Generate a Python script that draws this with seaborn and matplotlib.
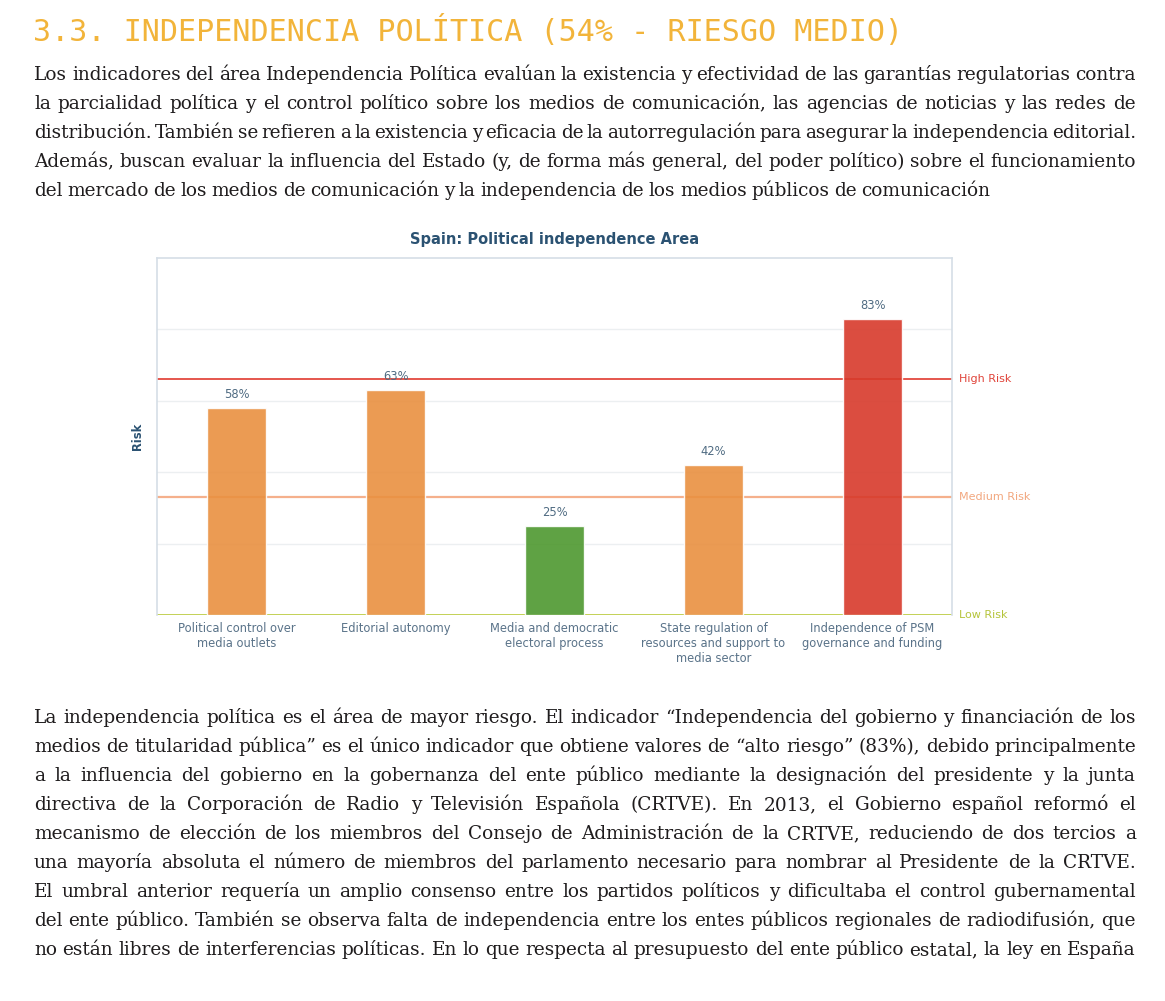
import numpy as np
import pandas as pd
import matplotlib
matplotlib.use("Agg")
import matplotlib.pyplot as plt
import matplotlib.transforms as mtrans
import seaborn as sns

# Dados do grafico
categorias = ["Political control over\nmedia outlets",
              "Editorial autonomy",
              "Media and democratic\nelectoral process",
              "State regulation of\nresources and support to\nmedia sector",
              "Independence of PSM\ngovernance and funding"]
valores = [58, 63, 25, 42, 83]

# Limites de risco
limitesRisco = [0, 33, 66]
nomesRisco = ["Low Risk", "Medium Risk", "High Risk"]

tituloGrafico = "Spain: Political independence Area"
tituloPagina = "3.3. INDEPENDENCIA POLÍTICA (54% - RIESGO MEDIO)"

paragrafo1 = [
    "Los indicadores del área Independencia Política evalúan la existencia y efectividad de las garantías regulatorias contra",
    "la parcialidad política y el control político sobre los medios de comunicación, las agencias de noticias y las redes de",
    "distribución. También se refieren a la existencia y eficacia de la autorregulación para asegurar la independencia editorial.",
    "Además, buscan evaluar la influencia del Estado (y, de forma más general, del poder político) sobre el funcionamiento",
    "del mercado de los medios de comunicación y la independencia de los medios públicos de comunicación",
]

paragrafo2 = [
    "La independencia política es el área de mayor riesgo. El indicador “Independencia del gobierno y financiación de los",
    "medios de titularidad pública” es el único indicador que obtiene valores de “alto riesgo” (83%), debido principalmente",
    "a la influencia del gobierno en la gobernanza del ente público mediante la designación del presidente y la junta",
    "directiva de la Corporación de Radio y Televisión Española (CRTVE). En 2013, el Gobierno español reformó el",
    "mecanismo de elección de los miembros del Consejo de Administración de la CRTVE, reduciendo de dos tercios a",
    "una mayoría absoluta el número de miembros del parlamento necesario para nombrar al Presidente de la CRTVE.",
    "El umbral anterior requería un amplio consenso entre los partidos políticos y dificultaba el control gubernamental",
    "del ente público. También se observa falta de independencia entre los entes públicos regionales de radiodifusión, que",
    "no están libres de interferencias políticas. En lo que respecta al presupuesto del ente público estatal, la ley en España",
]

# Estilo
W, H = 1165, 1001
FONTE_TEXTO = "DejaVu Serif"
TAM_TEXTO = 13.3
ENTRELINHA = 29
COR_TEXTO = "#1f1c1d"
coresRisco = ["#4e982f", "#e99040", "#d73a2b"]
coresLinhas = ["#b9c93a", "#f5b08c", "#e0392f"]
coresRotulos = ["#b5c43a", "#f2a77e", "#e0443a"]
COR_EIXO = "#5a7389"
COR_TITULO = "#2b5272"


def corDoValor(v):
    cor = coresRisco[0]
    for lim, c in zip(limitesRisco, coresRisco):
        if v >= lim:
            cor = c
    return cor


def mede(fig, renderer, palavras, tam):
    larguras = []
    for p in palavras:
        t = fig.text(0, 0, p, fontsize=tam, family=FONTE_TEXTO)
        larguras.append(t.get_window_extent(renderer).width)
        t.remove()
    return larguras


def escreveLinha(fig, renderer, linha, x0, x1, y, justifica=True):
    palavras = linha.split()
    tam = TAM_TEXTO
    larguras = mede(fig, renderer, palavras, tam)
    # se a linha nao cabe, reduz um pouco a fonte
    minimo = (len(palavras) - 1) * 3.5
    if sum(larguras) + minimo > x1 - x0:
        tam = tam * (x1 - x0 - minimo) / sum(larguras)
        larguras = mede(fig, renderer, palavras, tam)
    if justifica and len(palavras) > 1:
        espaco = (x1 - x0 - sum(larguras)) / (len(palavras) - 1)
    else:
        espaco = tam * 100 / 72 * 0.25
    x = x0
    for p, w in zip(palavras, larguras):
        fig.text(x / W, 1 - y / H, p, fontsize=tam, family=FONTE_TEXTO,
                 color=COR_TEXTO, ha="left", va="baseline")
        x += w + espaco


def escreveParagrafo(fig, renderer, linhas, yInicial, ultimaJustificada):
    for i, linha in enumerate(linhas):
        ultima = i == len(linhas) - 1
        escreveLinha(fig, renderer, linha, 34, 1136, yInicial + i * ENTRELINHA,
                     justifica=(not ultima) or ultimaJustificada)


def geraGrafico(fig):
    ax = fig.add_axes([157 / W, 1 - 615 / H, 795 / W, 357 / H])
    df = pd.DataFrame({"Indicador": categorias, "Risco": valores})
    paleta = [corDoValor(v) for v in valores]
    sns.barplot(data=df, x="Indicador", y="Risco", hue="Indicador", palette=paleta,
                legend=False, width=0.365, alpha=0.9, saturation=1, zorder=3, ax=ax)

    ax.set_ylim(0, 100)
    ax.set_yticks([20, 40, 60, 80])
    ax.set_yticklabels([])
    ax.grid(axis="y", color="#eceff1", linewidth=1, zorder=0)
    ax.tick_params(axis="both", length=0)
    ax.tick_params(axis="x", pad=5, labelsize=8.3, labelcolor=COR_EIXO)
    for s in ["left", "top", "right"]:
        ax.spines[s].set_color("#d5dee6")
        ax.spines[s].set_linewidth(1.2)
    ax.spines["bottom"].set_visible(False)

    trans = mtrans.blended_transform_factory(ax.transAxes, ax.transData)
    for lim, nome, cl, cr in zip(limitesRisco, nomesRisco, coresLinhas, coresRotulos):
        ax.axhline(lim, color=cl, linewidth=1.6 if lim == 33 else 1.2, zorder=2)
        ax.text(1 + 7 / 795, lim, nome, transform=trans, color=cr, fontsize=8,
                ha="left", va="center")

    for cont in ax.containers:
        ax.bar_label(cont, labels=[f"{v:.0f}%" for v in cont.datavalues],
                     padding=5, fontsize=8.3, color="#4f6b82")

    ax.set_xlabel("")
    ax.set_ylabel("Risk", fontsize=8.3, fontweight="bold", color=COR_TITULO, labelpad=6)
    ax.set_title(tituloGrafico, fontsize=10.5, fontweight="bold", color=COR_TITULO, pad=10)
    return ax


def main():
    sns.set_theme(style="white")
    plt.rcParams["font.family"] = ["DejaVu Sans"]
    fig = plt.figure(figsize=(W / 100, H / 100), dpi=100)
    renderer = fig.canvas.get_renderer()

    fig.text(33 / W, 1 - 41 / H, tituloPagina, family="DejaVu Sans Mono",
             fontsize=21.7, color="#f2b43a", ha="left", va="baseline")

    escreveParagrafo(fig, renderer, paragrafo1, 80, False)
    geraGrafico(fig)
    escreveParagrafo(fig, renderer, paragrafo2, 723, True)

    fig.savefig("out.png", dpi=100)


if __name__ == '__main__':
    main()
